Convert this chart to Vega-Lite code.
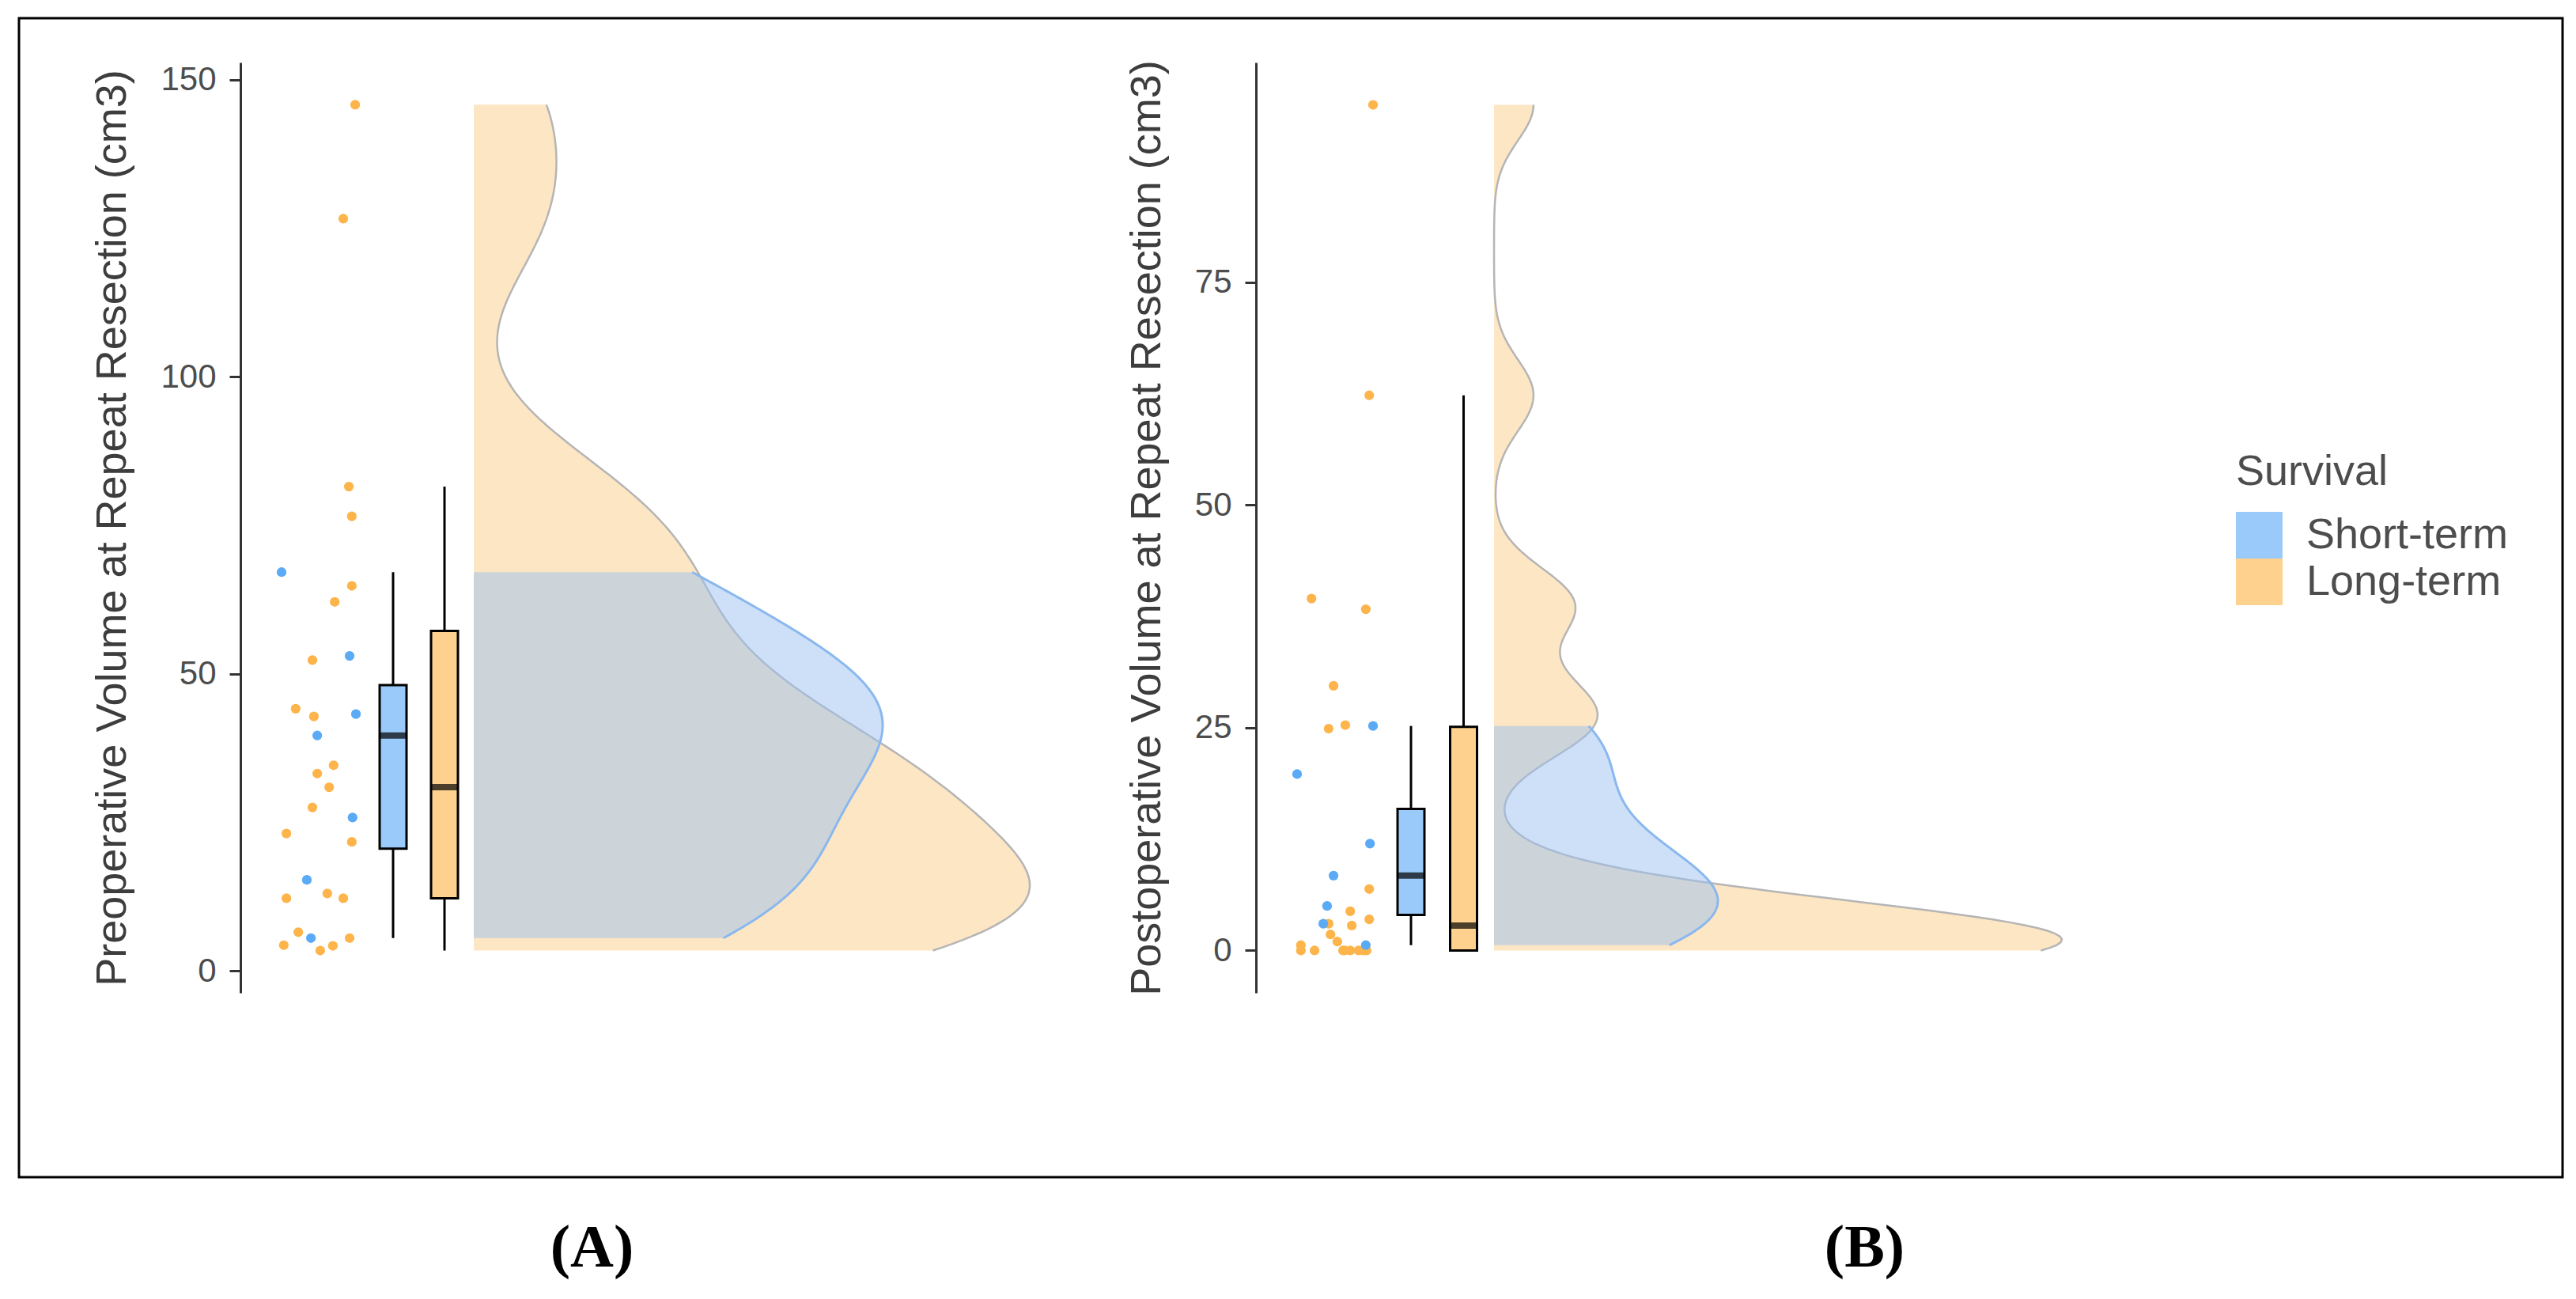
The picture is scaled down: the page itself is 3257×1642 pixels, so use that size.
{
  "$schema": "https://vega.github.io/schema/vega-lite/v6.json",
  "width": 3216,
  "height": 1465,
  "autosize": {"type": "none"},
  "padding": {"left": 24, "top": 23, "right": 17, "bottom": 154},
  "background": "white",
  "config": {
    "font": "Liberation Sans",
    "view": {"stroke": "black", "strokeWidth": 3, "fill": "white"},
    "axis": {"grid": false}
  },
  "datasets": {
    "A": [
      {"Survival": "Long-term", "volume": 145.8, "jitter": 0.98},
      {"Survival": "Long-term", "volume": 126.6, "jitter": 0.66},
      {"Survival": "Long-term", "volume": 81.5, "jitter": 0.81},
      {"Survival": "Long-term", "volume": 76.5, "jitter": 0.89},
      {"Survival": "Long-term", "volume": 64.8, "jitter": 0.89},
      {"Survival": "Long-term", "volume": 62.1, "jitter": 0.43},
      {"Survival": "Long-term", "volume": 52.3, "jitter": -0.17},
      {"Survival": "Long-term", "volume": 44.1, "jitter": -0.62},
      {"Survival": "Long-term", "volume": 42.8, "jitter": -0.13},
      {"Survival": "Long-term", "volume": 34.6, "jitter": 0.40},
      {"Survival": "Long-term", "volume": 33.2, "jitter": -0.04},
      {"Survival": "Long-term", "volume": 30.9, "jitter": 0.28},
      {"Survival": "Long-term", "volume": 27.5, "jitter": -0.17},
      {"Survival": "Long-term", "volume": 23.1, "jitter": -0.87},
      {"Survival": "Long-term", "volume": 21.7, "jitter": 0.89},
      {"Survival": "Long-term", "volume": 13.0, "jitter": 0.23},
      {"Survival": "Long-term", "volume": 12.2, "jitter": -0.87},
      {"Survival": "Long-term", "volume": 12.2, "jitter": 0.66},
      {"Survival": "Long-term", "volume": 6.5, "jitter": -0.55},
      {"Survival": "Long-term", "volume": 5.5, "jitter": 0.83},
      {"Survival": "Long-term", "volume": 4.3, "jitter": -0.94},
      {"Survival": "Long-term", "volume": 4.2, "jitter": 0.38},
      {"Survival": "Long-term", "volume": 3.4, "jitter": 0.04},
      {"Survival": "Short-term", "volume": 67.1, "jitter": -1.0},
      {"Survival": "Short-term", "volume": 53.0, "jitter": 0.83},
      {"Survival": "Short-term", "volume": 43.2, "jitter": 1.0},
      {"Survival": "Short-term", "volume": 39.6, "jitter": -0.04},
      {"Survival": "Short-term", "volume": 25.8, "jitter": 0.91},
      {"Survival": "Short-term", "volume": 15.3, "jitter": -0.32},
      {"Survival": "Short-term", "volume": 5.5, "jitter": -0.21}
    ],
    "B": [
      {"Survival": "Long-term", "volume": 94.9, "jitter": 1.0},
      {"Survival": "Long-term", "volume": 62.3, "jitter": 0.90},
      {"Survival": "Long-term", "volume": 39.5, "jitter": -0.62},
      {"Survival": "Long-term", "volume": 38.3, "jitter": 0.81},
      {"Survival": "Long-term", "volume": 29.7, "jitter": -0.04},
      {"Survival": "Long-term", "volume": 25.3, "jitter": 0.27},
      {"Survival": "Long-term", "volume": 24.9, "jitter": -0.17},
      {"Survival": "Long-term", "volume": 6.9, "jitter": 0.90},
      {"Survival": "Long-term", "volume": 4.4, "jitter": 0.40},
      {"Survival": "Long-term", "volume": 3.5, "jitter": 0.90},
      {"Survival": "Long-term", "volume": 3.0, "jitter": -0.17},
      {"Survival": "Long-term", "volume": 2.8, "jitter": 0.44},
      {"Survival": "Long-term", "volume": 1.8, "jitter": -0.12},
      {"Survival": "Long-term", "volume": 1.0, "jitter": 0.06},
      {"Survival": "Long-term", "volume": 0.6, "jitter": -0.90},
      {"Survival": "Long-term", "volume": 0, "jitter": -0.90},
      {"Survival": "Long-term", "volume": 0, "jitter": -0.54},
      {"Survival": "Long-term", "volume": 0, "jitter": 0.21},
      {"Survival": "Long-term", "volume": 0, "jitter": 0.40},
      {"Survival": "Long-term", "volume": 0, "jitter": 0.62},
      {"Survival": "Long-term", "volume": 0, "jitter": 0.83},
      {"Survival": "Long-term", "volume": 0, "jitter": 0.25},
      {"Survival": "Long-term", "volume": 0, "jitter": 0.75},
      {"Survival": "Short-term", "volume": 25.2, "jitter": 1.0},
      {"Survival": "Short-term", "volume": 19.8, "jitter": -1.0},
      {"Survival": "Short-term", "volume": 12.0, "jitter": 0.92},
      {"Survival": "Short-term", "volume": 8.4, "jitter": -0.04},
      {"Survival": "Short-term", "volume": 5.0, "jitter": -0.21},
      {"Survival": "Short-term", "volume": 3.0, "jitter": -0.31},
      {"Survival": "Short-term", "volume": 0.6, "jitter": 0.81}
    ]
  },
  "resolve": {
    "scale": {"x": "independent", "y": "independent"},
    "axis": {"x": "independent", "y": "independent"}
  },
  "layer": [
    {
      "data": {"name": "A"},
      "transform": [
        {"filter": "datum.Survival === 'Long-term'"},
        {"density": "volume", "bandwidth": 12, "extent": [3.4, 145.8], "steps": 240, "as": ["volume", "density"]}
      ],
      "encoding": {
        "y": {"field": "volume", "type": "quantitative", "scale": {"domain": [-3.72, 152.9], "range": [1232, 56], "zero": false, "nice": false}, "axis": null},
        "x": {"field": "density", "type": "quantitative", "scale": {"range": [575, 1278], "zero": true, "nice": false}, "axis": null}
      },
      "layer": [
        {"mark": {"type": "area", "orient": "horizontal", "color": "#FBCD89", "fillOpacity": 0.5}},
        {"mark": {"type": "line", "color": "#b5b5b5", "strokeWidth": 2.5}, "encoding": {"order": {"field": "volume", "type": "quantitative"}}}
      ]
    },
    {
      "data": {"name": "A"},
      "transform": [
        {"filter": "datum.Survival === 'Short-term'"},
        {"density": "volume", "bandwidth": 12.5, "extent": [5.5, 67.1], "steps": 200, "as": ["volume", "density"]}
      ],
      "encoding": {
        "y": {"field": "volume", "type": "quantitative", "scale": {"domain": [-3.72, 152.9], "range": [1232, 56], "zero": false, "nice": false}, "axis": null},
        "x": {"field": "density", "type": "quantitative", "scale": {"range": [575, 1092], "zero": true, "nice": false}, "axis": null}
      },
      "layer": [
        {"mark": {"type": "area", "orient": "horizontal", "color": "#9BC1EF", "fillOpacity": 0.5}},
        {"mark": {"type": "line", "color": "#8ab8ee", "strokeWidth": 3}, "encoding": {"order": {"field": "volume", "type": "quantitative"}}}
      ]
    },
    {
      "data": {"name": "A"},
      "mark": {
        "type": "boxplot", "extent": 1.5, "size": 34, "outliers": false, "ticks": false,
        "box": {"stroke": "black", "strokeWidth": 3, "fillOpacity": 0.62},
        "median": {"color": "black", "thickness": 6, "stroke": "black", "strokeWidth": 2},
        "rule": {"color": "black", "strokeWidth": 3}
      },
      "encoding": {
        "x": {"field": "Survival", "type": "nominal", "scale": {"domain": ["Short-term", "Long-term"], "range": [440.5, 570.5], "paddingInner": 0, "paddingOuter": 0}, "axis": null},
        "y": {"field": "volume", "type": "quantitative", "scale": {"domain": [-3.72, 152.9], "range": [1232, 56], "zero": false, "nice": false}, "axis": null},
        "color": {
          "field": "Survival", "type": "nominal",
          "scale": {"domain": ["Short-term", "Long-term"], "range": ["#5AAAF5", "#FDB44B"]},
          "legend": {"title": "Survival", "orient": "none", "legendX": 2803, "legendY": 547, "padding": 0, "symbolType": "square", "symbolSize": 3481, "symbolStrokeWidth": 0, "symbolOpacity": 0.62, "rowPadding": 0, "labelOffset": 30, "labelFontSize": 54, "labelColor": "#4d4d4d", "labelLimit": 0, "titleLimit": 0, "titleFontSize": 54, "titleFontWeight": "normal", "titleColor": "#4d4d4d", "titlePadding": 23}
        }
      }
    },
    {
      "data": {"name": "A"},
      "mark": {"type": "circle", "size": 150, "opacity": 1},
      "encoding": {
        "x": {
          "field": "jitter", "type": "quantitative",
          "scale": {"domain": [-1, 1], "range": [332, 426], "zero": false, "nice": false},
          "axis": {"orient": "bottom", "title": "(A)", "domain": false, "ticks": false, "labels": false, "titleX": 724, "titleY": 112, "titleBaseline": "alphabetic", "titleAlign": "center", "titleFont": "Liberation Serif", "titleFontSize": 76, "titleFontWeight": "bold", "titleColor": "black"}
        },
        "y": {
          "field": "volume", "type": "quantitative",
          "scale": {"domain": [-3.72, 152.9], "range": [1232, 56], "zero": false, "nice": false},
          "axis": {"orient": "left", "offset": -280, "values": [0, 50, 100, 150], "title": "Preoperative Volume at Repeat Resection (cm3)", "domainColor": "#333333", "domainWidth": 3, "tickColor": "#333333", "tickWidth": 3, "tickSize": 14, "labelFontSize": 42, "labelColor": "#4d4d4d", "labelPadding": 17, "titleFontSize": 54, "titleFontWeight": "normal", "titleColor": "#3d3d3d", "titlePadding": 33}
        },
        "color": {"field": "Survival", "type": "nominal"}
      }
    },
    {
      "data": {"name": "B"},
      "transform": [
        {"filter": "datum.Survival === 'Long-term'"},
        {"density": "volume", "bandwidth": 4, "extent": [0, 94.9], "steps": 300, "as": ["volume", "density"]}
      ],
      "encoding": {
        "y": {"field": "volume", "type": "quantitative", "scale": {"domain": [-4.75, 99.65], "range": [1232, 56], "zero": false, "nice": false}, "axis": null},
        "x": {"field": "density", "type": "quantitative", "scale": {"range": [1865, 2583], "zero": true, "nice": false}, "axis": null}
      },
      "layer": [
        {"mark": {"type": "area", "orient": "horizontal", "color": "#FBCD89", "fillOpacity": 0.5}},
        {"mark": {"type": "line", "color": "#b5b5b5", "strokeWidth": 2.5}, "encoding": {"order": {"field": "volume", "type": "quantitative"}}}
      ]
    },
    {
      "data": {"name": "B"},
      "transform": [
        {"filter": "datum.Survival === 'Short-term'"},
        {"density": "volume", "bandwidth": 5.4, "extent": [0.6, 25.2], "steps": 200, "as": ["volume", "density"]}
      ],
      "encoding": {
        "y": {"field": "volume", "type": "quantitative", "scale": {"domain": [-4.75, 99.65], "range": [1232, 56], "zero": false, "nice": false}, "axis": null},
        "x": {"field": "density", "type": "quantitative", "scale": {"range": [1865, 2148], "zero": true, "nice": false}, "axis": null}
      },
      "layer": [
        {"mark": {"type": "area", "orient": "horizontal", "color": "#9BC1EF", "fillOpacity": 0.5}},
        {"mark": {"type": "line", "color": "#8ab8ee", "strokeWidth": 3}, "encoding": {"order": {"field": "volume", "type": "quantitative"}}}
      ]
    },
    {
      "data": {"name": "B"},
      "mark": {
        "type": "boxplot", "extent": 1.5, "size": 34, "outliers": false, "ticks": false,
        "box": {"stroke": "black", "strokeWidth": 3, "fillOpacity": 0.62},
        "median": {"color": "black", "thickness": 6, "stroke": "black", "strokeWidth": 2},
        "rule": {"color": "black", "strokeWidth": 3}
      },
      "encoding": {
        "x": {"field": "Survival", "type": "nominal", "scale": {"domain": ["Short-term", "Long-term"], "range": [1726.75, 1859.75], "paddingInner": 0, "paddingOuter": 0}, "axis": null},
        "y": {"field": "volume", "type": "quantitative", "scale": {"domain": [-4.75, 99.65], "range": [1232, 56], "zero": false, "nice": false}, "axis": null},
        "color": {"field": "Survival", "type": "nominal"}
      }
    },
    {
      "data": {"name": "B"},
      "mark": {"type": "circle", "size": 150, "opacity": 1},
      "encoding": {
        "x": {
          "field": "jitter", "type": "quantitative",
          "scale": {"domain": [-1, 1], "range": [1616, 1712], "zero": false, "nice": false},
          "axis": {"orient": "bottom", "title": "(B)", "domain": false, "ticks": false, "labels": false, "titleX": 2333, "titleY": 112, "titleBaseline": "alphabetic", "titleAlign": "center", "titleFont": "Liberation Serif", "titleFontSize": 76, "titleFontWeight": "bold", "titleColor": "black"}
        },
        "y": {
          "field": "volume", "type": "quantitative",
          "scale": {"domain": [-4.75, 99.65], "range": [1232, 56], "zero": false, "nice": false},
          "axis": {"orient": "left", "offset": -1564, "values": [0, 25, 50, 75], "title": "Postoperative Volume at Repeat Resection (cm3)", "domainColor": "#333333", "domainWidth": 3, "tickColor": "#333333", "tickWidth": 3, "tickSize": 14, "labelFontSize": 42, "labelColor": "#4d4d4d", "labelPadding": 17, "titleFontSize": 54, "titleFontWeight": "normal", "titleColor": "#3d3d3d", "titlePadding": 33}
        },
        "color": {"field": "Survival", "type": "nominal"}
      }
    }
  ]
}
